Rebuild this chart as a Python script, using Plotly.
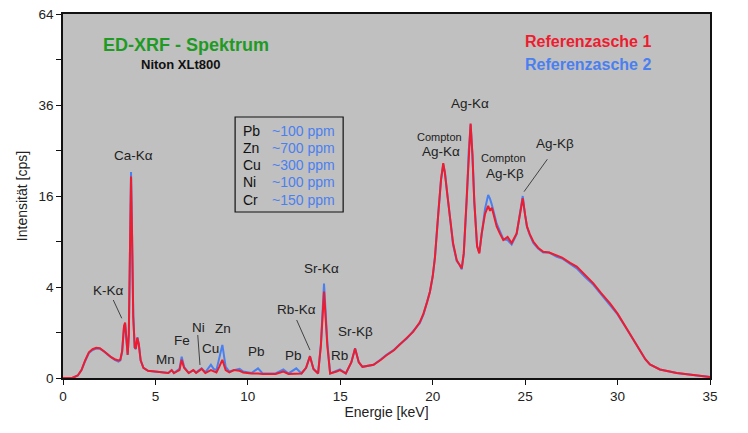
import numpy as np
import plotly.graph_objects as go

# Energy [keV]
energy = [0.0, 0.5, 0.8, 1.0, 1.2, 1.4, 1.6, 1.8, 2.0, 2.2, 2.4, 2.6, 2.8, 3.0, 3.1, 3.2, 3.3, 3.36, 3.44, 3.5,
          3.56, 3.62, 3.68, 3.74, 3.8, 3.88, 3.94, 4.02, 4.1, 4.2, 4.35, 4.6, 5.0, 5.4, 5.7, 5.88, 6.0, 6.3, 6.42, 6.55,
          6.8, 7.05, 7.2, 7.5, 7.7, 8.0, 8.15, 8.3, 8.45, 8.62, 8.8, 9.0, 9.25, 9.55, 9.75, 10.2, 10.55, 10.8, 11.5, 11.92,
          12.2, 12.62, 12.9, 13.15, 13.36, 13.55, 13.8, 13.95, 14.12, 14.3, 14.45, 14.8, 14.98, 15.3, 15.6, 15.8, 16.0, 16.2, 16.5, 16.8,
          17.2, 17.5, 17.9, 18.2, 18.6, 18.95, 19.3, 19.5, 19.7, 19.85, 20.0, 20.12, 20.3, 20.45, 20.57, 20.66, 20.8, 20.93, 21.1, 21.3,
          21.45, 21.57, 21.68, 21.84, 21.95, 22.05, 22.15, 22.25, 22.4, 22.52, 22.65, 22.83, 23.0, 23.1, 23.2, 23.46, 23.65, 23.82, 24.05, 24.27,
          24.54, 24.72, 24.87, 25.0, 25.1, 25.25, 25.44, 25.7, 25.98, 26.3, 26.71, 27.0, 27.43, 27.79, 28.2, 28.69, 29.1, 29.59, 30.0, 30.49,
          30.9, 31.21, 31.5, 31.75, 32.29, 33.2, 34.0, 35.0]

# Intensity [cps] - Referenzasche 1
asche1 = [0, 0, 0.003, 0.03, 0.15, 0.32, 0.40, 0.44, 0.43, 0.36, 0.28, 0.21, 0.17, 0.15, 0.16, 0.35, 1.30, 1.48, 0.55, 0.26,
          0.9, 8.0, 19.6, 9.0, 1.8, 0.45, 0.42, 0.78, 0.55, 0.15, 0.05, 0.025, 0.02, 0.015, 0.012, 0.03, 0.012, 0.03, 0.16, 0.05,
          0.012, 0.03, 0.012, 0.04, 0.012, 0.03, 0.02, 0.015, 0.06, 0.16, 0.03, 0.015, 0.03, 0.025, 0.015, 0.01, 0.01, 0.008, 0.008, 0.02,
          0.008, 0.008, 0.01, 0.05, 0.23, 0.04, 0.01, 0.5, 3.6, 0.5, 0.01, 0.02, 0.03, 0.01, 0.12, 0.42, 0.12, 0.06, 0.07, 0.085,
          0.16, 0.25, 0.37, 0.52, 0.75, 1.04, 1.5, 2.0, 2.8, 3.6, 5.0, 7.0, 13.0, 19.0, 22.3, 20.2, 16.0, 12.6, 8.8, 6.7,
          6.2, 5.8, 7.5, 15.3, 25.0, 31.3, 24.0, 15.0, 8.4, 7.5, 10.1, 13.0, 14.3, 13.5, 14.0, 11.1, 10.0, 9.2, 9.6, 8.8,
          10.1, 13.0, 15.6, 12.8, 11.1, 10.0, 9.0, 8.2, 7.7, 7.6, 7.3, 7.0, 6.4, 6.0, 5.2, 4.33, 3.5, 2.69, 2.0, 1.19,
          0.65, 0.38, 0.17, 0.09, 0.035, 0.012, 0.005, 0.0005]

# Intensity [cps] - Referenzasche 2
asche2 = [0, 0, 0.003, 0.03, 0.14, 0.30, 0.38, 0.42, 0.41, 0.35, 0.27, 0.21, 0.16, 0.13, 0.15, 0.33, 1.25, 1.42, 0.55, 0.26,
          0.9, 8.5, 20.5, 9.5, 1.9, 0.45, 0.40, 0.80, 0.55, 0.15, 0.05, 0.025, 0.02, 0.015, 0.012, 0.03, 0.012, 0.04, 0.22, 0.06,
          0.012, 0.03, 0.015, 0.045, 0.015, 0.085, 0.04, 0.03, 0.2, 0.53, 0.06, 0.02, 0.03, 0.04, 0.02, 0.012, 0.045, 0.01, 0.01, 0.035,
          0.01, 0.045, 0.01, 0.05, 0.23, 0.04, 0.01, 0.55, 4.3, 0.6, 0.01, 0.025, 0.035, 0.01, 0.12, 0.43, 0.12, 0.06, 0.07, 0.085,
          0.17, 0.26, 0.38, 0.54, 0.75, 1.05, 1.45, 1.95, 2.8, 3.6, 5.0, 7.0, 13.0, 19.0, 22.0, 20.5, 16.0, 12.3, 8.6, 6.6,
          6.2, 5.7, 7.5, 15.3, 25.0, 31.0, 24.0, 15.0, 8.4, 7.6, 10.3, 13.8, 16.2, 15.5, 14.5, 11.5, 10.3, 9.3, 9.2, 8.6,
          10.0, 13.5, 16.0, 12.8, 11.0, 9.9, 8.8, 8.1, 7.6, 7.6, 7.1, 6.9, 6.3, 5.8, 5.0, 4.2, 3.4, 2.6, 1.95, 1.17,
          0.65, 0.38, 0.17, 0.09, 0.035, 0.012, 0.005, 0.0005]

y_ticks = [0, 4, 16, 36, 64]

FONT = "Liberation Sans, Arial, sans-serif"
RED = "#ee1c2e"
BLUE = "#4a7ff0"

fig = go.Figure()
fig.add_trace(go.Scatter(x=energy, y=np.sqrt(asche2), mode="lines",
                         line=dict(color=BLUE, width=2), name="Referenzasche 2"))
fig.add_trace(go.Scatter(x=energy, y=np.sqrt(asche1), mode="lines",
                         line=dict(color=RED, width=2), name="Referenzasche 1"))

ann = []
def lab(x, y, t, size=13.5, ref="data", color="#222", bold=False, xanchor="center"):
    txt = f"<b>{t}</b>" if bold else t
    d = dict(x=x, y=y, text=txt, showarrow=False, xanchor=xanchor, yanchor="middle",
             font=dict(family=FONT, size=size, color=color))
    if ref == "paper":
        d.update(xref="paper", yref="paper")
    ann.append(d)

# peak labels
lab(3.79, 4.90, "Ca-Kα")
lab(2.45, 1.934, "K-Kα")
lab(5.57, 0.396, "Mn")
lab(6.42, 0.82, "Fe")
lab(7.32, 1.114, "Ni")
lab(7.99, 0.653, "Cu")
lab(8.64, 1.092, "Zn")
lab(10.48, 0.578, "Pb")
lab(12.46, 0.505, "Pb")
lab(12.64, 1.51, "Rb-Kα")
lab(13.99, 2.41, "Sr-Kα")
lab(14.98, 0.505, "Rb")
lab(15.80, 1.018, "Sr-Kβ")
lab(20.36, 5.30, "Compton", size=11)
lab(20.45, 4.97, "Ag-Kα")
lab(22.02, 6.04, "Ag-Kα")
lab(23.82, 4.83, "Compton", size=11)
lab(23.91, 4.50, "Ag-Kβ")
lab(26.61, 5.16, "Ag-Kβ")

# titles
lab(0.190, 0.915, "ED-XRF - Spektrum", size=18, ref="paper", color="#1f9a24", bold=True)
lab(0.181, 0.860, "Niton XLt800", size=13, ref="paper", color="#111", bold=True)
lab(0.811, 0.924, "Referenzasche 1", size=16, ref="paper", color=RED, bold=True)
lab(0.811, 0.860, "Referenzasche 2", size=16, ref="paper", color=BLUE, bold=True)

# concentration box
elements = ["Pb", "Zn", "Cu", "Ni", "Cr"]
concs = ["~100 ppm", "~700 ppm", "~300 ppm", "~100 ppm", "~150 ppm"]
row_y = [0.679, 0.633, 0.585, 0.538, 0.489]
for el, c, yy in zip(elements, concs, row_y):
    lab(0.275, yy, el, size=14, ref="paper", color="#111", xanchor="left")
    lab(0.320, yy, c, size=14, ref="paper", color=BLUE, xanchor="left")

shapes = [
    dict(type="rect", xref="paper", yref="paper", x0=0.266, x1=0.433, y0=0.456, y1=0.717,
         line=dict(color="#111", width=1.2), fillcolor="rgba(0,0,0,0)"),
    dict(type="line", x0=2.72, y0=1.714, x1=3.18, y1=1.312, line=dict(color="#333", width=0.9)),
    dict(type="line", x0=7.29, y0=0.945, x1=7.41, y1=0.286, line=dict(color="#333", width=0.9)),
    dict(type="line", x0=12.64, y0=1.275, x1=13.36, y1=0.615, line=dict(color="#333", width=0.9)),
    dict(type="line", x0=26.2, y0=4.807, x1=24.94, y1=4.095, line=dict(color="#333", width=0.9)),
]

fig.update_layout(
    width=740, height=425,
    margin=dict(l=55, r=38, t=6, b=55, autoexpand=False),
    paper_bgcolor="white", plot_bgcolor="#c0c0c0",
    showlegend=False,
    annotations=ann, shapes=shapes,
    font=dict(family=FONT, size=13, color="#222"),
)
fig.update_xaxes(range=[0, 35], tickvals=[0, 5, 10, 15, 20, 25, 30, 35], automargin=False,
                 ticks="outside", ticklen=5, tickcolor="#111", showgrid=False, zeroline=False,
                 showline=True, linecolor="#111", linewidth=1.5, mirror=True,
                 ticklabeloverflow="allow",
                 title=dict(text="Energie [keV]", font=dict(size=14), standoff=4),
                 tickfont=dict(size=13.5))
fig.update_yaxes(range=[0, 8], tickvals=[np.sqrt(v) for v in y_ticks], ticktext=[str(v) for v in y_ticks],
                 automargin=False, ticklabeloverflow="allow",
                 ticks="outside", ticklen=5, tickcolor="#111", showgrid=False, zeroline=False,
                 showline=True, linecolor="#111", linewidth=1.5, mirror=True,
                 minor=dict(tickvals=[1, 3, 5, 7], ticks="outside", ticklen=5, tickcolor="#111"),
                 title=dict(text="Intensität [cps]", font=dict(size=14), standoff=8),
                 tickfont=dict(size=13.5))

fig.write_html("out.html")
